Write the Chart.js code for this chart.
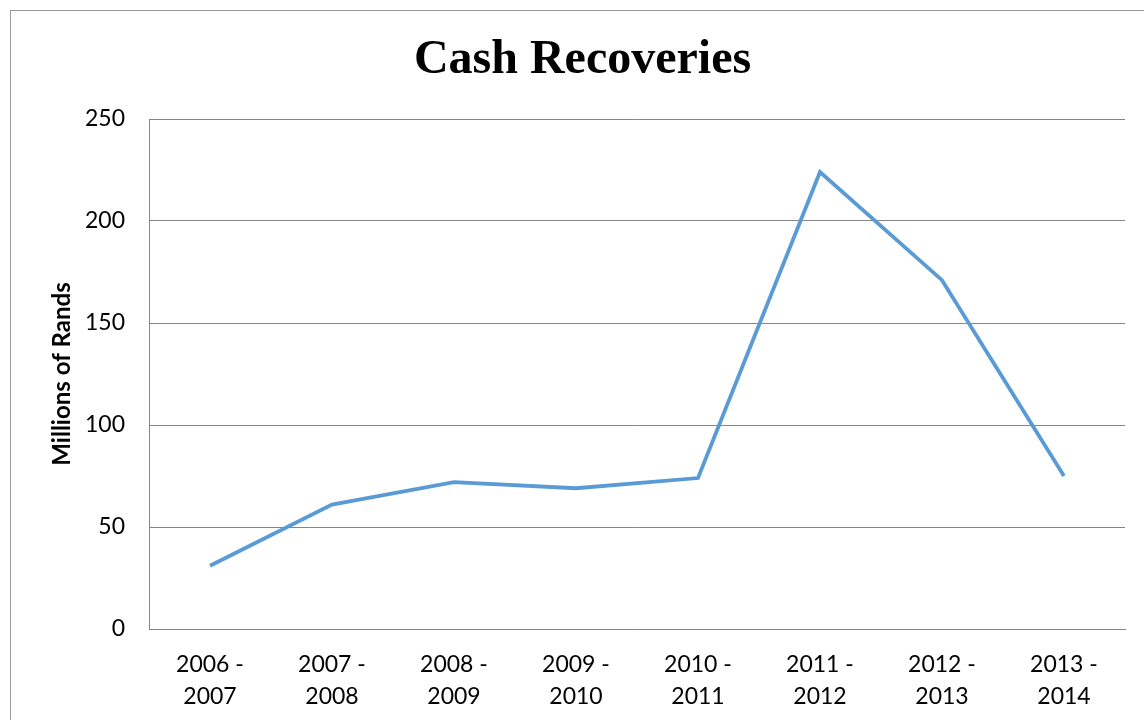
<!DOCTYPE html>
<html>
<head>
<meta charset="utf-8">
<script src="https://cdn.jsdelivr.net/npm/chart.js@4.4.0/dist/chart.umd.min.js"></script>
<style>
  html, body { margin: 0; padding: 0; background: #fff; overflow: hidden; }
  #wrap { position: relative; width: 1144px; height: 720px; }
  #frame { position: absolute; left: 10px; top: 10px; width: 1200px; height: 800px; border: 1px solid #9a9a9a; box-sizing: border-box; }
  canvas { position: absolute; left: 0; top: 0; }
</style>
</head>
<body>
<div id="wrap">
  <div id="frame"></div>
  <canvas id="chart" width="1144" height="720"></canvas>
</div>
<script>
const periods = [
  ['2006 -', '2007'], ['2007 -', '2008'], ['2008 -', '2009'], ['2009 -', '2010'],
  ['2010 -', '2011'], ['2011 -', '2012'], ['2012 -', '2013'], ['2013 -', '2014']
];
const recoveries = [31, 61, 72, 69, 74, 224, 171, 75];
const yTicks = [0, 50, 100, 150, 200, 250];

const tickFont = { family: 'Lato, "Open Sans", sans-serif', size: 23, lineHeight: 1.39 };

new Chart(document.getElementById('chart').getContext('2d'), {
  type: 'line',
  data: {
    labels: periods,
    datasets: [{
      data: recoveries,
      borderColor: '#5b9bd5',
      borderWidth: 3.8,
      pointRadius: 0,
      tension: 0,
      fill: false
    }]
  },
  options: {
    responsive: false,
    animation: false,
    // left padding puts the title's centre where the reference has it
    layout: { padding: { left: 40, right: 19, top: 0, bottom: 0 } },
    plugins: {
      legend: { display: false },
      tooltip: { enabled: false },
      title: {
        display: true,
        text: 'Cash Recoveries',
        color: '#000',
        font: { family: '"Liberation Serif", "Times New Roman", serif', size: 48, weight: 'bold', lineHeight: 1.2 },
        padding: { top: 32, bottom: 29.4 }
      }
    },
    scales: {
      x: {
        offset: true,
        grid: { display: false, drawTicks: false },
        border: { color: '#868686', width: 1 },
        ticks: { color: '#000', font: tickFont, padding: 20, maxRotation: 0, autoSkip: false },
        afterFit: s => { s.height = 91; }
      },
      y: {
        min: 0,
        max: 250,
        afterBuildTicks: s => { s.ticks = yTicks.map(v => ({ value: v })); },
        grid: { color: '#868686', lineWidth: 1, drawTicks: false },
        border: { color: '#868686', width: 1 },
        ticks: { color: '#000', font: tickFont, padding: 24 },
        title: {
          display: true,
          text: 'Millions of Rands',
          color: '#000',
          font: { family: 'Lato, "Open Sans", sans-serif', size: 24, weight: 'bold', lineHeight: 1.2 },
          padding: { top: 8, bottom: 0 }
        },
        afterFit: s => { s.width = 109; }
      }
    }
  }
});
</script>
</body>
</html>
